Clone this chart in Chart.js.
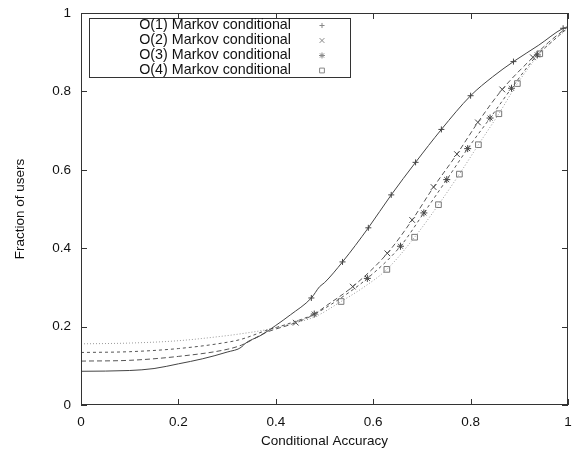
<!DOCTYPE html>
<html>
<head>
<meta charset="utf-8">
<script src="https://cdn.jsdelivr.net/npm/chart.js@4.4.1/dist/chart.umd.min.js"></script>
<style>
	html, body { margin: 0; padding: 0; background: #fff; }
	#wrap { width: 573px; height: 449px; }
</style>
</head>
<body>
<div id="wrap"><canvas id="cdf"></canvas></div>
<script>
// [conditional accuracy, fraction of users]
const o1Curve = [[0, 0.086], [0.1, 0.088], [0.15, 0.093], [0.2, 0.105], [0.25, 0.118], [0.3, 0.135], [0.33, 0.148], [0.335, 0.155], [0.37, 0.178], [0.4, 0.203], [0.43, 0.230], [0.473, 0.273], [0.49, 0.302], [0.5, 0.312], [0.537, 0.365], [0.59, 0.452], [0.637, 0.536], [0.687, 0.619], [0.74, 0.703], [0.80, 0.789], [0.845, 0.837], [0.888, 0.876], [0.94, 0.918], [0.99, 0.961], [1.0, 0.965]];
const o1Marks = [[0.473, 0.273], [0.537, 0.365], [0.59, 0.452], [0.637, 0.536], [0.687, 0.619], [0.74, 0.703], [0.80, 0.789], [0.888, 0.876], [0.99, 0.961]];

const o2Curve = [[0, 0.112], [0.1, 0.114], [0.2, 0.124], [0.3, 0.142], [0.33, 0.153], [0.38, 0.185], [0.441, 0.210], [0.48, 0.232], [0.5, 0.250], [0.558, 0.302], [0.629, 0.387], [0.680, 0.472], [0.724, 0.556], [0.772, 0.640], [0.815, 0.721], [0.865, 0.805], [0.928, 0.887], [0.96, 0.925], [1.0, 0.965]];
const o2Marks = [[0.441, 0.210], [0.558, 0.302], [0.629, 0.387], [0.680, 0.472], [0.724, 0.556], [0.772, 0.640], [0.815, 0.721], [0.865, 0.805], [0.928, 0.887]];

const o3Curve = [[0, 0.134], [0.1, 0.136], [0.2, 0.144], [0.3, 0.160], [0.33, 0.168], [0.38, 0.190], [0.42, 0.205], [0.479, 0.232], [0.53, 0.270], [0.588, 0.323], [0.656, 0.405], [0.704, 0.490], [0.751, 0.575], [0.794, 0.654], [0.840, 0.732], [0.884, 0.808], [0.937, 0.893], [0.97, 0.930], [1.0, 0.963]];
const o3Marks = [[0.479, 0.232], [0.588, 0.323], [0.656, 0.405], [0.704, 0.490], [0.751, 0.575], [0.794, 0.654], [0.840, 0.732], [0.884, 0.808], [0.937, 0.893]];

const o4Curve = [[0, 0.156], [0.1, 0.158], [0.2, 0.164], [0.3, 0.177], [0.33, 0.182], [0.38, 0.192], [0.42, 0.204], [0.48, 0.225], [0.534, 0.264], [0.58, 0.300], [0.628, 0.346], [0.685, 0.428], [0.734, 0.511], [0.777, 0.589], [0.816, 0.664], [0.858, 0.743], [0.896, 0.820], [0.942, 0.896], [0.97, 0.930], [1.0, 0.960]];
const o4Marks = [[0.534, 0.264], [0.628, 0.346], [0.685, 0.428], [0.734, 0.511], [0.777, 0.589], [0.816, 0.664], [0.858, 0.743], [0.896, 0.820], [0.942, 0.896]];

const seriesNames = ["O(1) Markov conditional", "O(2) Markov conditional", "O(3) Markov conditional", "O(4) Markov conditional"];
const tickValues = [0, 0.2, 0.4, 0.6, 0.8, 1];

const toXY = (arr) => arr.map((p) => ({ x: p[0], y: p[1] }));

const lineStyles = [
	{ color: "#444", dash: [], mark: "cross", r: 3 },
	{ color: "#555", dash: [5, 3], mark: "crossRot", r: 4 },
	{ color: "#555", dash: [3, 3], mark: "star", r: 3.5 },
	{ color: "#999", dash: [1, 2], mark: "rect", r: 4 },
];
const curves = [o1Curve, o2Curve, o3Curve, o4Curve];
const marks = [o1Marks, o2Marks, o3Marks, o4Marks];

const datasets = [];
curves.forEach((c, i) => {
	datasets.push({
		label: seriesNames[i],
		data: toXY(c),
		borderColor: lineStyles[i].color,
		borderWidth: 1,
		borderDash: lineStyles[i].dash,
		pointRadius: 0,
		fill: false,
		cubicInterpolationMode: "monotone",
	});
});
marks.forEach((m, i) => {
	datasets.push({
		label: seriesNames[i] + " marks",
		data: toXY(m),
		showLine: false,
		pointStyle: lineStyles[i].mark,
		pointRadius: lineStyles[i].r,
		pointBorderColor: i === 3 ? "#777" : "#444",
		pointBackgroundColor: "rgba(0,0,0,0)",
		pointBorderWidth: 1,
	});
});

const fontFamily = "'Liberation Sans', Arial, sans-serif";

// frame with inward ticks + gnuplot style key
const framePlugin = {
	id: "frame",
	afterDraw(chart) {
		const ctx = chart.ctx;
		const a = chart.chartArea;
		const xs = chart.scales.x, ys = chart.scales.y;
		ctx.save();
		ctx.strokeStyle = "#333";
		ctx.lineWidth = 1;
		ctx.setLineDash([]);
		ctx.strokeRect(a.left + 0.5, a.top + 0.5, a.right - a.left - 1, a.bottom - a.top - 1);
		ctx.beginPath();
		tickValues.forEach((v) => {
			const px = Math.round(xs.getPixelForValue(v)) + 0.5;
			ctx.moveTo(px, a.bottom); ctx.lineTo(px, a.bottom - 6);
			ctx.moveTo(px, a.top); ctx.lineTo(px, a.top + 6);
			const py = Math.round(ys.getPixelForValue(v)) + 0.5;
			ctx.moveTo(a.left, py); ctx.lineTo(a.left + 6, py);
			ctx.moveTo(a.right, py); ctx.lineTo(a.right - 6, py);
		});
		ctx.stroke();

		// key
		ctx.fillStyle = "#fff";
		ctx.fillRect(89.5, 18.5, 261, 59);
		ctx.strokeRect(89.5, 18.5, 261, 59);
		ctx.font = "14.3px " + fontFamily;
		ctx.textAlign = "right";
		ctx.textBaseline = "middle";
		seriesNames.forEach((name, i) => {
			const y = 25.5 + i * 15;
			ctx.fillStyle = "#111";
			ctx.fillText(name, 291, y);
			ctx.strokeStyle = "#888";
			ctx.fillStyle = "#fff";
			Chart.helpers.drawPoint(ctx, {
				pointStyle: lineStyles[i].mark,
				radius: lineStyles[i].r * 0.85,
				rotation: 0,
				borderWidth: 1,
			}, 322, y);
		});
		ctx.restore();
	},
};

const tickFont = { family: fontFamily, size: 13.5 };

new Chart(document.getElementById("cdf").getContext("2d"), {
	type: "line",
	data: { datasets: datasets },
	options: {
		responsive: true,
		maintainAspectRatio: false,
		animation: false,
		layout: { padding: { top: 13, right: 4, left: 0, bottom: 0 } },
		plugins: {
			legend: { display: false },
			tooltip: { enabled: false },
		},
		scales: {
			x: {
				type: "linear",
				min: 0,
				max: 1,
				grid: { display: false, drawTicks: false },
				border: { display: false },
				ticks: {
					stepSize: 0.2,
					padding: 9,
					color: "#111",
					font: tickFont,
					maxRotation: 0,
					callback: (v) => String(Math.round(v * 10) / 10),
				},
				title: {
					display: true,
					text: "Conditional Accuracy",
					color: "#111",
					font: tickFont,
					padding: { top: 0, bottom: 0 },
				},
				afterFit: (s) => { s.height = 44; s.paddingLeft = 0; s.paddingRight = 0; },
			},
			y: {
				min: 0,
				max: 1,
				grid: { display: false, drawTicks: false },
				border: { display: false },
				ticks: {
					stepSize: 0.2,
					padding: 10,
					color: "#111",
					font: tickFont,
					callback: (v) => String(Math.round(v * 10) / 10),
				},
				title: {
					display: true,
					text: "Fraction of users",
					color: "#111",
					font: tickFont,
					padding: { top: 12, bottom: 0 },
				},
				afterFit: (s) => { s.width = 81; s.paddingTop = 0; s.paddingBottom = 0; },
			},
		},
	},
	plugins: [framePlugin],
});
</script>
</body>
</html>
